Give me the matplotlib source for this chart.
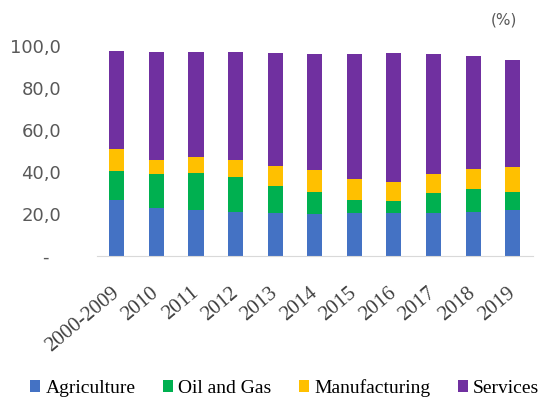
import matplotlib.pyplot as plt
import numpy as np

years = ["2000-2009", "2010", "2011", "2012", "2013", "2014", "2015",
         "2016", "2017", "2018", "2019"]
agriculture = [26.8, 23.0, 21.9, 21.1, 20.5, 19.8, 20.5, 20.5, 20.6, 20.8, 21.9]
oil_gas = [13.5, 16.0, 17.6, 16.4, 13.0, 10.8, 6.3, 5.8, 9.2, 11.1, 8.7]
manufacturing = [10.5, 6.9, 7.5, 8.2, 9.4, 10.4, 9.9, 9.1, 9.2, 9.7, 11.9]
services = [46.8, 51.4, 50.0, 51.3, 53.8, 55.3, 59.6, 61.3, 57.3, 53.6, 50.8]

y_ticks = [0, 20, 40, 60, 80, 100]
y_labels = ["-  ", "20,0", "40,0", "60,0", "80,0", "100,0"]

series = [("Agriculture", agriculture, "#4472C4"),
          ("Oil and Gas", oil_gas, "#00B050"),
          ("Manufacturing", manufacturing, "#FFC000"),
          ("Services", services, "#7030A0")]

fig = plt.figure(figsize=(5.42, 3.98), dpi=100)
ax = fig.add_axes([0.179, 0.357, 0.8035, 0.527])

x = np.arange(len(years))
bottom = np.zeros(len(years))
for name, vals, col in series:
    ax.bar(x, vals, 0.38, bottom=bottom, color=col, label=name)
    bottom += np.array(vals)

ax.set_xlim(-0.5, len(years) - 0.5)
ax.set_ylim(0, 100)
ax.set_yticks(y_ticks)
ax.set_yticklabels(y_labels, fontsize=13, color="#595959")
ax.tick_params(axis="y", length=0, pad=26)
ax.set_xticks(x)
ax.set_xticklabels(years, rotation=40, ha="right", va="center",
                   rotation_mode="anchor", fontsize=15, color="#404040",
                   fontfamily="Liberation Serif")
ax.tick_params(axis="x", length=0, pad=25)

for s in ["top", "right", "left"]:
    ax.spines[s].set_visible(False)
ax.spines["bottom"].set_color("#D9D9D9")

fig.text(0.955, 0.95, "(%)", fontsize=11, color="#595959", ha="right", va="center")

fig.legend(loc="center", bbox_to_anchor=(0.525, 0.025), ncol=4, frameon=False,
           handlelength=0.55, handleheight=0.55, handletextpad=0.25,
           columnspacing=1.4, borderaxespad=0,
           prop={"family": "Liberation Serif", "size": 14})

fig.savefig("out.png", dpi=100)
